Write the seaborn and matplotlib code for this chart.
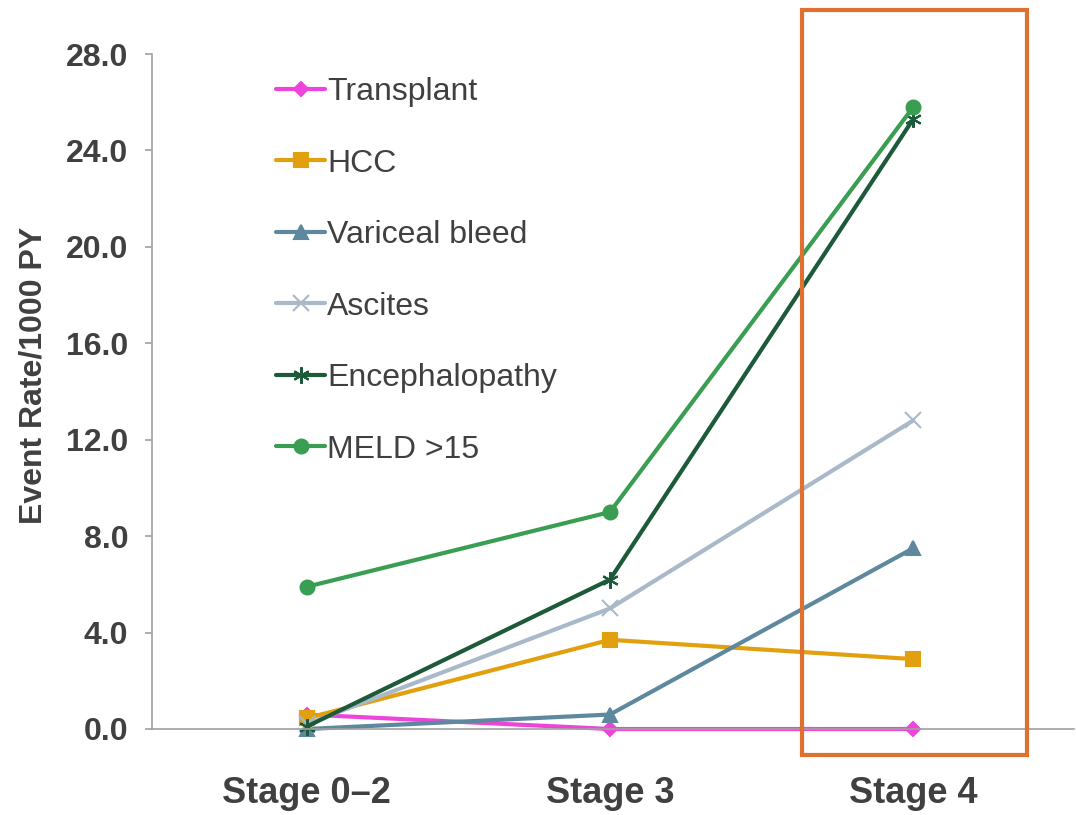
import matplotlib
matplotlib.use("Agg")
import matplotlib.pyplot as plt
import matplotlib.patches as mpatches
import seaborn as sns
import pandas as pd

# Stages of fibrosis on the x axis
stages = ["Stage 0\u20132", "Stage 3", "Stage 4"]

# Event rates per 1000 person-years
transplant = [0.6, 0.0, 0.0]
hcc = [0.45, 3.7, 2.9]
variceal_bleed = [0.0, 0.6, 7.5]
ascites = [0.2, 5.0, 12.8]
encephalopathy = [0.1, 6.2, 25.3]
meld_gt15 = [5.9, 9.0, 25.8]

series_names = ["Transplant", "HCC", "Variceal bleed", "Ascites",
                "Encephalopathy", "MELD >15"]
series_values = [transplant, hcc, variceal_bleed, ascites,
                 encephalopathy, meld_gt15]

y_ticks = [0, 4, 8, 12, 16, 20, 24, 28]

colors = {
    "Transplant": "#EE44DC",
    "HCC": "#E2A00E",
    "Variceal bleed": "#5E889E",
    "Ascites": "#A9B9C9",
    "Encephalopathy": "#1C5A3A",
    "MELD >15": "#3A9E52",
}
markers = {
    "Transplant": "D",
    "HCC": "s",
    "Variceal bleed": "^",
    "Ascites": "x",
    "Encephalopathy": (6, 2, 0),
    "MELD >15": "o",
}
marker_sizes = {
    "Transplant": 7,
    "HCC": 10,
    "Variceal bleed": 10,
    "Ascites": 12,
    "Encephalopathy": 12,
    "MELD >15": 10,
}

rows = []
for name, vals in zip(series_names, series_values):
    for i, v in enumerate(vals):
        rows.append({"stage_idx": i, "stage": stages[i], "series": name, "rate": v})
df = pd.DataFrame(rows)

sns.set_theme(style="white")
plt.rcParams["font.family"] = ["Liberation Sans", "DejaVu Sans"]
text_color = "#404040"

fig = plt.figure(figsize=(10.76, 8.15), dpi=100)
ax = fig.add_axes([152 / 1076, 86 / 815, 922 / 1076, 675 / 815])

for name in series_names:
    sub = df[df["series"] == name]
    sns.lineplot(
        data=sub, x="stage_idx", y="rate", ax=ax,
        color=colors[name], linewidth=3,
        marker=markers[name], markersize=marker_sizes[name],
        markeredgewidth=1.5, markeredgecolor=colors[name],
        label=name, clip_on=False,
    )

ax.set_xlim(-0.51, 2.53)
ax.set_ylim(0, 28)
ax.set_yticks(y_ticks)
ax.set_yticklabels([f"{t:.1f}" for t in y_ticks])
ax.set_xticks(range(len(stages)))
ax.set_xticklabels(stages)

for lbl in ax.get_yticklabels():
    lbl.set_fontsize(23)
    lbl.set_fontweight("bold")
    lbl.set_color(text_color)
for lbl in ax.get_xticklabels():
    lbl.set_fontsize(26)
    lbl.set_fontweight("bold")
    lbl.set_color(text_color)

ax.tick_params(axis="y", which="both", left=True, length=5, width=1.2,
               color="#A0A0A0", pad=12)
ax.tick_params(axis="x", which="both", bottom=False, length=0, pad=34)

for side in ["top", "right"]:
    ax.spines[side].set_visible(False)
for side in ["left", "bottom"]:
    ax.spines[side].set_color("#A0A0A0")
    ax.spines[side].set_linewidth(1.2)

ax.set_xlabel("")
ax.set_ylabel("Event Rate/1000 PY", fontsize=23, fontweight="bold",
              color=text_color)
ax.yaxis.set_label_coords(-0.112, 0.524)

leg = ax.legend(
    loc="upper left", bbox_to_anchor=(260 / 1076, (815 - 61) / 815),
    bbox_transform=fig.transFigure, frameon=False, fontsize=23,
    handlelength=1.55, handletextpad=0.05, labelspacing=1.3, borderpad=0,
)
for t in leg.get_texts():
    t.set_color(text_color)

# Highlight box around the Stage 4 column
box = mpatches.Rectangle(
    (802 / 1076, 60 / 815), 225 / 1076, 745 / 815,
    transform=fig.transFigure, fill=False, edgecolor="#E0702F",
    linewidth=3, zorder=10,
)
fig.patches.append(box)

fig.savefig("out.png", dpi=100, facecolor="white")
